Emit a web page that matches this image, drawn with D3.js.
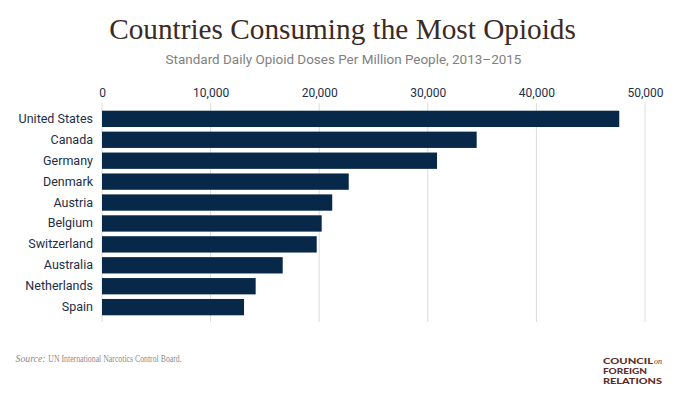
<!DOCTYPE html>
<html><head><meta charset="utf-8">
<script src="https://cdn.jsdelivr.net/npm/d3@7"></script>
<style>body{margin:0;background:#fff}svg{display:block}</style>
</head><body>
<svg id="c" width="680" height="399"></svg>
<script>
const countries = ["United States","Canada","Germany","Denmark","Austria","Belgium","Switzerland","Australia","Netherlands","Spain"];
const doses = [47630,34500,30850,22720,21200,20230,19770,16640,14150,13080];
const ticks = [0,10000,20000,30000,40000,50000];
const titleText = "Countries Consuming the Most Opioids";
const subtitleText = "Standard Daily Opioid Doses Per Million People, 2013\u20132015";
const sourceLabel = "Source:";
const sourceText = "UN International Narcotics Control Board.";
const logoLines = ["COUNCIL","FOREIGN","RELATIONS"];

const svg = d3.select("#c");
const x = d3.scaleLinear().domain([0,50000]).range([102,645]);
const y = d3.scaleBand().domain(countries).range([110.7,315.3]).paddingInner(0.22).paddingOuter(0);

function fitText(sel, w){
  const n = sel.node(); const cur = n.getComputedTextLength();
  const fs = parseFloat(sel.attr("font-size"));
  sel.attr("font-size", fs*w/cur);
}

const t = svg.append("text").attr("x",342.5).attr("y",38.5).attr("text-anchor","middle")
  .attr("font-family","Liberation Serif, serif").attr("font-size",28).attr("fill","#3b2a26").text(titleText);
fitText(t,467);
const st = svg.append("text").attr("x",343.5).attr("y",64).attr("text-anchor","middle")
  .attr("font-family","Roboto, sans-serif").attr("font-size",13).attr("fill","#808080").text(subtitleText);
fitText(st,356);

// gridlines
svg.append("g").selectAll("line").data(ticks).join("line")
  .attr("x1",d=>x(d)).attr("x2",d=>x(d)).attr("y1",103).attr("y2",322)
  .attr("stroke","#dcdcdc").attr("stroke-width",1);

// top axis labels
const ax = svg.append("g").attr("transform","translate(0,102)")
  .call(d3.axisTop(x).tickValues(ticks).tickFormat(d3.format(",")).tickSize(0).tickPadding(5));
ax.select(".domain").remove();
ax.selectAll("text").attr("font-family","Roboto, sans-serif").attr("font-size",12).attr("fill","#1b2f4b");

// bars
svg.append("g").selectAll("rect").data(countries).join("rect")
  .attr("x",x(0)).attr("y",d=>y(d)).attr("height",y.bandwidth())
  .attr("width",(d,i)=>x(doses[i])-x(0)).attr("fill","#072848");

// country labels
const ay = svg.append("g").attr("transform","translate(102,0)")
  .call(d3.axisLeft(y).tickSize(0).tickPadding(9));
ay.select(".domain").remove();
ay.selectAll("text").attr("font-family","Roboto, sans-serif").attr("font-size",12.5).attr("fill","#1c2e47");

// source
const sg = svg.append("g").attr("font-family","Liberation Serif, serif").attr("font-size",10.5).attr("fill","#8c8c8c");
sg.append("text").attr("x",15.5).attr("y",362).attr("font-style","italic").text(sourceLabel)
  .attr("textLength",30).attr("lengthAdjust","spacingAndGlyphs");
sg.append("text").attr("x",48.3).attr("y",362).text(sourceText)
  .attr("textLength",133.4).attr("lengthAdjust","spacingAndGlyphs");

// logo
const lg = svg.append("g").attr("font-family","Lato, sans-serif").attr("font-weight",900).attr("fill","#5d2f2c");
const ly = [363.5,373.7,383.9];
const lw = [50,44,59];
logoLines.forEach((s,i)=>{
  lg.append("text").attr("x",603).attr("y",ly[i]).attr("font-size",8.3).text(s)
    .attr("textLength",lw[i]).attr("lengthAdjust","spacingAndGlyphs");
});
lg.append("text").attr("x",654).attr("y",363.5).attr("font-family","Liberation Serif, serif").attr("font-style","italic")
  .attr("font-weight",400).attr("font-size",8).text("on");
</script>
</body></html>
